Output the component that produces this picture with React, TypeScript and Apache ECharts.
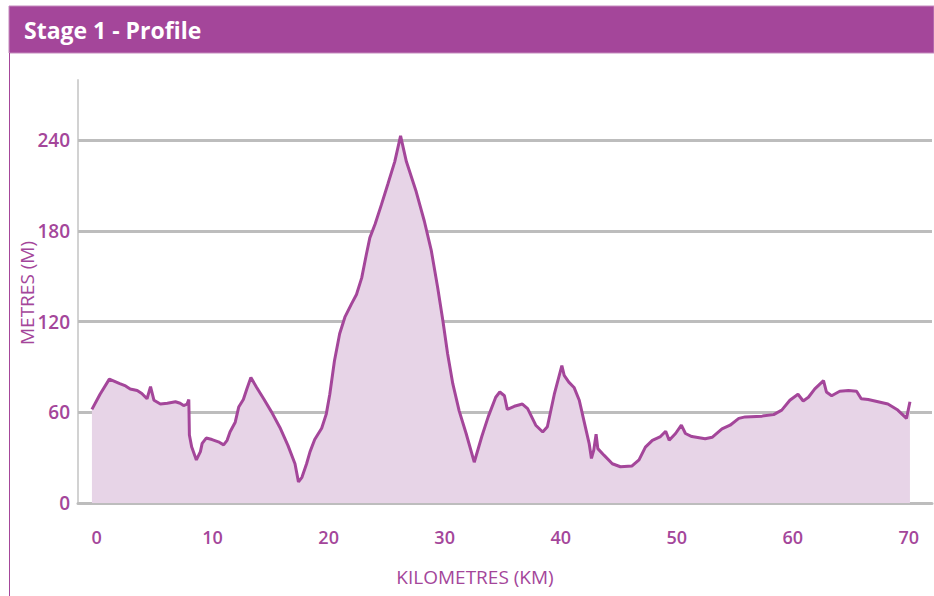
import React, { useEffect, useRef } from "react";
import * as echarts from "echarts";

const TITLE = "Stage 1 - Profile";
const X_NAME = "KILOMETRES (KM)";
const Y_NAME = "METRES (M)";
const X_TICKS = [0, 10, 20, 30, 40, 50, 60, 70];
const Y_TICKS = [0, 60, 120, 180, 240];
const GRID_LINES = [60, 120, 180, 240];

const KM = [
  -0.4, 0.3, 1.1, 2.0, 2.5, 2.9, 3.5, 3.9, 4.35, 4.65, 4.95, 5.5, 6.1, 6.8, 7.2, 7.5, 7.8, 7.95, 8.0, 8.2,
  8.6, 8.95, 9.1, 9.45, 9.95, 10.5, 10.95, 11.25, 11.5, 11.95, 12.25, 12.65, 12.95, 13.3, 13.8, 14.4, 15.1, 15.8, 16.5, 17.1,
  17.4, 17.7, 18.1, 18.4, 18.8, 19.4, 19.8, 20.1, 20.5, 20.95, 21.4, 21.95, 22.4, 22.85, 23.25, 23.55, 24.0, 24.55, 25.1, 25.7,
  26.2, 26.7, 27.55, 28.25, 28.85, 29.4, 29.85, 30.25, 30.7, 31.25, 31.85, 32.55, 33.2, 33.75, 34.4, 34.75, 35.15, 35.4, 36.0, 36.7,
  37.15, 37.85, 38.45, 38.85, 39.45, 40.1, 40.3, 40.7, 41.15, 41.6, 42.0, 42.45, 42.65, 42.85, 43.05, 43.2, 43.75, 44.45, 45.15, 46.15,
  46.75, 47.3, 47.9, 48.6, 49.05, 49.35, 49.9, 50.4, 50.75, 51.3, 52.45, 53.05, 53.9, 54.6, 55.35, 55.9, 57.35, 58.35, 59.05, 59.75,
  60.45, 60.9, 61.35, 61.9, 62.65, 62.9, 63.35, 64.05, 64.8, 65.5, 65.9, 66.5, 67.35, 68.2, 69.05, 69.8, 70.1,
];
const METRES = [
  62, 72, 82, 79, 77.5, 75.5, 74.5, 72.5, 69, 77, 68, 65.5, 66, 67, 66, 64.5, 65.5, 68.5, 45, 37,
  28.5, 34, 39.5, 43, 42, 40.5, 38.5, 41.5, 47, 53.5, 63.5, 68.5, 75.5, 83, 76.5, 69, 60, 50, 38, 26,
  14, 17, 26, 34, 42, 49.5, 59, 72, 94, 112, 123, 131.5, 138, 149, 164.5, 175.5, 184.5, 197.5, 211, 226,
  243, 226, 206, 186.5, 167, 142.5, 120.5, 99, 79, 61, 46, 27, 44, 57, 70, 73.5, 71, 62, 64, 65.5,
  62.5, 51.5, 47, 50.5, 72, 91, 84.5, 80, 76.5, 68, 54.5, 39.5, 29.5, 35, 45.5, 36, 31.5, 26, 24, 24.5,
  28.5, 37, 41.5, 44, 47.5, 41.5, 46, 51.5, 46, 44, 42.5, 43.5, 49, 51.5, 56, 57, 57.5, 58.5, 61.5, 68,
  72, 67.5, 70, 75.5, 81, 73.5, 71, 74, 74.5, 74, 69, 68.5, 67, 65.5, 61.5, 56, 67,
];

const PURPLE = "#A4469A";
const FILL = "#E7D4E7";
const GRID_GRAY = "#BDBDBD";
const FONT = "'Open Sans', 'Noto Sans', sans-serif";

export default function App() {
  const ref = useRef<HTMLDivElement>(null);

  useEffect(() => {
    if (!ref.current) return;
    const chart = echarts.init(ref.current, undefined, { renderer: "svg" });
    const data = KM.map((k, i) => [k, METRES[i]]);
    chart.setOption({
      animation: false,
      backgroundColor: "#ffffff",
      grid: { left: 78, right: 2, top: 80, bottom: 93, containLabel: false },
      graphic: [
        {
          type: "rect",
          shape: { x: 9, y: 6, width: 925, height: 47 },
          style: { fill: PURPLE, stroke: "#C58BBE", lineWidth: 1 },
          silent: true,
        },
        {
          type: "text",
          x: 24,
          y: 30,
          style: {
            text: TITLE,
            fill: "#ffffff",
            font: `700 23px ${FONT}`,
            textVerticalAlign: "middle",
          },
          silent: true,
        },
        {
          type: "line",
          shape: { x1: 9.5, y1: 53, x2: 9.5, y2: 596 },
          style: { stroke: PURPLE, lineWidth: 1 },
          silent: true,
        },
        {
          type: "text",
          x: 27,
          y: 293,
          rotation: Math.PI / 2,
          style: {
            text: Y_NAME,
            fill: PURPLE,
            font: `500 19px ${FONT}`,
            textAlign: "center",
            textVerticalAlign: "middle",
          },
          silent: true,
        },
      ],
      xAxis: {
        type: "value",
        min: -1.6,
        max: 72,
        name: X_NAME,
        nameLocation: "middle",
        nameGap: 64,
        nameTextStyle: {
          color: PURPLE,
          fontFamily: FONT,
          fontSize: 19,
          fontWeight: 500,
          padding: [0, 60, 0, 0],
        },
        axisLine: { show: true, onZero: false, lineStyle: { color: GRID_GRAY, width: 3 } },
        axisTick: { show: false },
        splitLine: { show: false },
        axisLabel: {
          customValues: X_TICKS,
          color: PURPLE,
          fontFamily: FONT,
          fontSize: 18,
          fontWeight: 600,
          margin: 25,
        },
      },
      yAxis: {
        type: "value",
        min: 0,
        max: 280,
        axisLine: { show: true, onZero: false, lineStyle: { color: "#D2D2D2", width: 2 } },
        axisTick: { show: false },
        splitLine: { show: false },
        axisLabel: {
          customValues: Y_TICKS,
          color: PURPLE,
          fontFamily: FONT,
          fontSize: 19,
          fontWeight: 600,
          margin: 8,
        },
      },
      series: [
        {
          type: "line",
          data,
          symbol: "none",
          lineStyle: { color: PURPLE, width: 3 },
          areaStyle: { color: FILL, opacity: 1 },
          z: 3,
          markLine: {
            silent: true,
            symbol: "none",
            label: { show: false },
            lineStyle: { color: GRID_GRAY, width: 3, type: "solid" },
            data: GRID_LINES.map((v) => ({ yAxis: v })),
            z: 2,
          },
        },
      ],
    });
    return () => chart.dispose();
  }, []);

  return (
    <div
      ref={ref}
      style={{ position: "fixed", left: 0, top: 0, width: 934, height: 596 }}
    />
  );
}
